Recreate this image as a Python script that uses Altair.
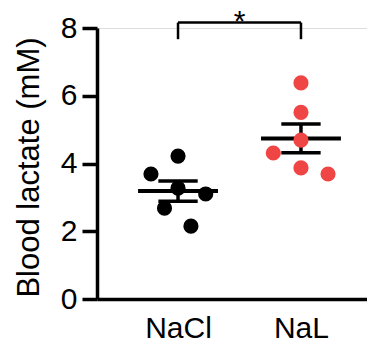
import altair as alt
import pandas as pd

categories = ["NaCl", "NaL"]
nacl_values = [4.22, 3.69, 3.27, 3.10, 2.68, 2.15]
nal_values = [6.38, 5.51, 4.69, 4.31, 3.87, 3.69]
nacl_jitter = [0.0, -0.22, 0.0, 0.225, -0.11, 0.105]
nal_jitter = [0.0, 0.0, 0.0, -0.225, 0.0, 0.22]
y_ticks = [0, 2, 4, 6, 8]
y_title = "Blood lactate (mM)"
significance = "*"
bracket_top = 8.16
bracket_leg = 7.67
star_y = 7.92
colors = ["#000000", "#f04545"]

FONT = "Liberation Sans"

rows = []
for i, (vals, jit) in enumerate([(nacl_values, nacl_jitter), (nal_values, nal_jitter)]):
    for v, j in zip(vals, jit):
        rows.append({"group": categories[i], "pos": i + 1, "xj": i + 1 + j, "value": v})
df = pd.DataFrame(rows)

xscale = alt.Scale(domain=[0.341, 2.537], nice=False, zero=False)
yscale = alt.Scale(domain=[0, 8], nice=False, zero=True)

label_expr = " : ".join(
    [f"datum.value == {i+1} ? '{c}'" for i, c in enumerate(categories[:-1])] + [f"'{categories[-1]}'"]
)

xaxis = alt.Axis(values=[1, 2], labelExpr=label_expr, ticks=False, grid=False, title=None,
                 domainWidth=3.5, domainColor="black", labelFontSize=30, labelColor="black",
                 labelFont=FONT, labelPadding=14)
yaxis = alt.Axis(values=y_ticks, grid=False, title=y_title, tickSize=15, tickWidth=3.5,
                 tickColor="black", domainWidth=3.5, domainColor="black", labelFontSize=30,
                 labelColor="black", labelFont=FONT, labelPadding=5,
                 titleFont=FONT, titleFontSize=31, titleFontWeight="normal", titleColor="black",
                 titleAngle=270, titleX=-59, titleY=139, titleBaseline="alphabetic",
                 titleAlign="center")

base = alt.Chart(df)

stats = base.transform_aggregate(
    mean="mean(value)", sem="stderr(value)", groupby=["group", "pos"]
).transform_calculate(
    lo="datum.mean - datum.sem", hi="datum.mean + datum.sem",
    m1="datum.pos - 0.325", m2="datum.pos + 0.325",
    c1="datum.pos - 0.16", c2="datum.pos + 0.16",
)

mean_line = stats.mark_rule(color="black", strokeWidth=4).encode(
    x=alt.X("m1:Q", scale=xscale, axis=xaxis), x2="m2:Q",
    y=alt.Y("mean:Q", scale=yscale, axis=yaxis))
sem_line = stats.mark_rule(color="black", strokeWidth=3.5).encode(
    x="pos:Q", y="lo:Q", y2="hi:Q")
cap_lo = stats.mark_rule(color="black", strokeWidth=3.5).encode(x="c1:Q", x2="c2:Q", y="lo:Q")
cap_hi = stats.mark_rule(color="black", strokeWidth=3.5).encode(x="c1:Q", x2="c2:Q", y="hi:Q")

points = base.mark_circle(size=230, opacity=1).encode(
    x="xj:Q", y="value:Q",
    color=alt.Color("group:N", scale=alt.Scale(domain=categories, range=colors), legend=None))

bracket_df = pd.DataFrame({"a": [1], "b": [2], "top": [bracket_top], "leg": [bracket_leg],
                           "mid": [1.5], "sy": [star_y], "txt": [significance]})
bb = alt.Chart(bracket_df)
br_h = bb.mark_rule(color="black", strokeWidth=2.5).encode(x="a:Q", x2="b:Q", y="top:Q")
br_l = bb.mark_rule(color="black", strokeWidth=2.5).encode(x="a:Q", y="leg:Q", y2="top:Q")
br_r = bb.mark_rule(color="black", strokeWidth=2.5).encode(x="b:Q", y="leg:Q", y2="top:Q")
star = bb.mark_text(font=FONT, fontSize=30, baseline="alphabetic", align="center",
                    color="black").encode(x="mid:Q", y="sy:Q", text="txt:N")

chart = alt.layer(mean_line, sem_line, cap_lo, cap_hi, points, br_h, br_l, br_r, star).properties(
    width=270, height=271,
    autosize=alt.AutoSizeParams(type="none"),
    padding={"left": 89, "top": 20, "right": 0, "bottom": 45},
).configure_view(stroke=None).configure(font=FONT)

chart.save("out.html", embed_options={"renderer": "svg", "actions": False})
